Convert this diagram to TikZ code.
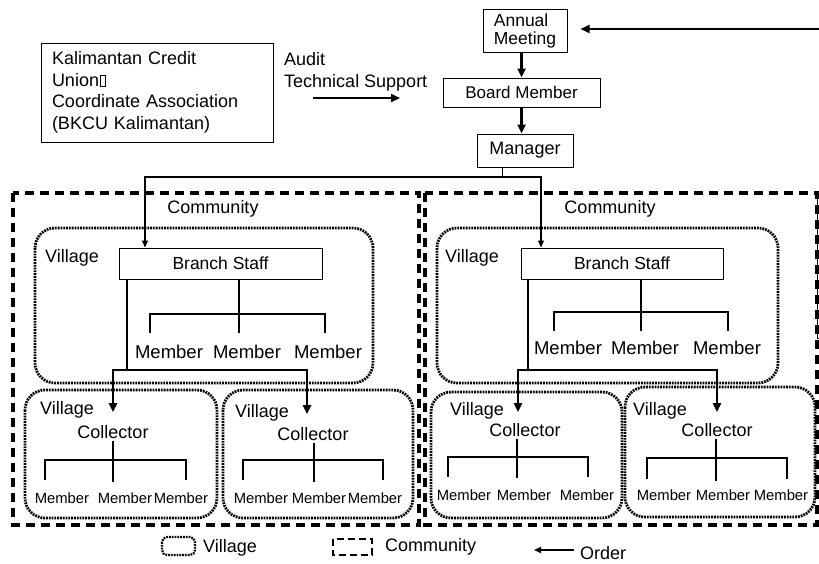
\documentclass[tikz,border=0pt]{standalone}
\usepackage{fontspec}
\setmainfont{Liberation Sans}
\usetikzlibrary{arrows.meta,positioning}
\newcommand{\tofu}{\kern1pt{\setlength{\fboxsep}{0pt}\setlength{\fboxrule}{0.5pt}\fbox{\rule{0pt}{11pt}\kern4pt}}}
\tikzset{
  box/.style={draw, line width=1pt, inner sep=0pt},
  lbl/.style={inner sep=2pt, font=\fontsize{18}{21}\selectfont},
  mem/.style={inner sep=2pt, font=\fontsize{14.8}{18}\selectfont},
  link/.style={line width=1.4pt},
  arrthin/.style={line width=1.2pt, -{Triangle[length=7pt,width=6pt]}},
  arrthick/.style={line width=2.4pt, -{Triangle[length=9pt,width=8pt]}},
  community/.style={line width=3.2pt, dash pattern=on 9pt off 6pt},
  village/.style={line width=2.8pt, dash pattern=on 1.8pt off 1pt, rounded corners=20pt},
}
\begin{document}
\begin{tikzpicture}[x=1pt,y=-1pt]
\useasboundingbox (0,0) rectangle (819,563);
% head office
\node[box, align=left, text width=210pt, inner xsep=11pt, minimum height=99pt,
  font=\fontsize{18}{21.5}\selectfont] (bkcu) at (157,92.5)
  {Kalimantan Credit\\Union\tofu\\Coordinate Association\\(BKCU Kalimantan)};
\node[lbl, align=left, anchor=north west, font=\fontsize{18}{22}\selectfont] (audit) at (282,50) {Audit\\Technical Support};
\coordinate (supA) at (313,98);
\coordinate (supB) at (400,98);
\draw[arrthick, line width=2pt] (supA) -- (supB);
%
\node[box, minimum width=84pt, minimum height=43pt, align=left, font=\fontsize{17.5}{18}\selectfont] (annual) at (525,30.5) {Annual\\Meeting};
\node[box, minimum width=157pt, minimum height=29pt, font=\fontsize{17}{20}\selectfont] (board) at (521.5,92.5) {Board Member};
\node[box, minimum width=96pt, minimum height=33pt, font=\fontsize{18}{21}\selectfont] (manager) at (525,150.5) {Manager};
\draw[arrthick] (board.north |- annual.south) -- (board.north);
\draw[arrthick] (board.south) -- (board.south |- manager.north);
\coordinate (orderin) at (819,29);
\draw[arrthick, line width=2pt, shorten >=13pt] (orderin) -- (orderin -| annual.east);
%
% communities
\draw[community] (13,193) rectangle (419,525);
\draw[community] (425,193) rectangle (817,525);
\draw[line width=0.8pt] (817,193) -- (817,338) -- (819,338);
\node[lbl] (comL) at (213,209) {Community};
\node[lbl] (comR) at (610,209) {Community};
%
% villages
\draw[village] (35,228) rectangle (373,383);
\draw[village] (437,228) rectangle (778,383);
\draw[village] (25,390) rectangle (217,518);
\draw[village] (223,390) rectangle (413,518);
\draw[village] (431,392) rectangle (622,518);
\draw[village] (625,387) rectangle (815,517);
\node[lbl, anchor=west] (vilTL) at (43,258) {Village};
\node[lbl, anchor=west] (vilTR) at (443,258) {Village};
\node[lbl, anchor=west] (vilL1) at (38,410) {Village};
\node[lbl, anchor=west] (vilL2) at (233,413) {Village};
\node[lbl, anchor=west] (vilR1) at (448,411) {Village};
\node[lbl, anchor=west] (vilR2) at (631,411) {Village};
%
% branch staff
\node[box, minimum width=203pt, minimum height=31pt, font=\fontsize{17.5}{20}\selectfont] (branchL) at (220.5,263.5) {Branch Staff};
\node[box, minimum width=202pt, minimum height=31pt, font=\fontsize{17.5}{20}\selectfont] (branchR) at (622,263.5) {Branch Staff};
\coordinate (split) at (502,177);
\draw[line width=1pt] (manager.south -| split) -- (split);
\draw[arrthin] (split) -| ([xshift=-75.5pt]branchL.north);
\draw[arrthin] (split) -| ([xshift=-81pt]branchR.north);
%
% members of branch
\coordinate (barTL) at (239,314);
\draw[link] (branchL.south -| barTL) -- (barTL) -- ++(0,19);
\draw[link] (barTL) ++(-89,19) |- (barTL) -| ++(86,19);
\node[lbl, font=\fontsize{18.5}{21}\selectfont] (mTL1) at (169,352) {Member};
\node[lbl, font=\fontsize{18.5}{21}\selectfont] (mTL2) at (247,352) {Member};
\node[lbl, font=\fontsize{18.5}{21}\selectfont] (mTL3) at (328,352) {Member};
\coordinate (barTR) at (641,312);
\draw[link] (branchR.south -| barTR) -- (barTR) -- ++(0,19);
\draw[link] (barTR) ++(-87,19) |- (barTR) -| ++(87,19);
\node[lbl, font=\fontsize{18.5}{21}\selectfont] (mTR1) at (568,348) {Member};
\node[lbl, font=\fontsize{18.5}{21}\selectfont] (mTR2) at (645,348) {Member};
\node[lbl, font=\fontsize{18.5}{21}\selectfont] (mTR3) at (727,348) {Member};
%
% collectors
\node[lbl] (colL1) at (113,432) {Collector};
\node[lbl] (colL2) at (313,434) {Collector};
\node[lbl] (colR1) at (525,430) {Collector};
\node[lbl] (colR2) at (717,430) {Collector};
\coordinate (forkL) at (127,370);
\draw[link] (branchL.south -| forkL) -- (forkL);
\draw[arrthick] (forkL) -| ([yshift=11pt]colL1.north);
\draw[arrthick] (forkL) -| ([xshift=-6pt,yshift=11pt]colL2.north);
\coordinate (forkR) at (528,370);
\draw[link] (branchR.south -| forkR) -- (forkR);
\draw[arrthick] (forkR) -| ([xshift=-7pt,yshift=9pt]colR1.north);
\draw[arrthick] (forkR) -| ([yshift=9pt]colR2.north);
%
% members of collectors
\coordinate (barL1) at (113,460);
\draw[link] (colL1.south -| barL1) -- (barL1) -- ++(0,22);
\draw[link] (barL1) ++(-68,20) |- (barL1) -| ++(73,20);
\node[mem] (mL11) at (62,498) {Member};
\node[mem] (mL12) at (125,498) {Member};
\node[mem] (mL13) at (181,498) {Member};
\coordinate (barL2) at (314,460);
\draw[link] (colL2.south -| barL2) -- (barL2) -- ++(0,22);
\draw[link] (barL2) ++(-71,20) |- (barL2) -| ++(69,20);
\node[mem] (mL21) at (261,498) {Member};
\node[mem] (mL22) at (319,498) {Member};
\node[mem] (mL23) at (375,498) {Member};
\coordinate (barR1) at (517,457);
\draw[link] (colR1.south -| barR1) -- (barR1) -- ++(0,21);
\draw[link] (barR1) ++(-69,20) |- (barR1) -| ++(71,20);
\node[mem] (mR11) at (464,495) {Member};
\node[mem] (mR12) at (524,495) {Member};
\node[mem] (mR13) at (587,495) {Member};
\coordinate (barR2) at (716,458);
\draw[link] (colR2.south -| barR2) -- (barR2) -- ++(0,23);
\draw[link] (barR2) ++(-69,21) |- (barR2) -| ++(71,21);
\node[mem] (mR21) at (664,495) {Member};
\node[mem] (mR22) at (723,495) {Member};
\node[mem] (mR23) at (781,495) {Member};
%
% legend
\draw[village, rounded corners=5pt, line width=2.2pt] (162,537) rectangle (195,555);
\node[lbl, anchor=west] (legV) at (201,548) {Village};
\draw[community, line width=2.6pt, dash pattern=on 7pt off 4pt] (333,539) rectangle (372,555);
\node[lbl, anchor=west] (legC) at (383,547) {Community};
\node[lbl, anchor=west] (legO) at (578,553) {Order};
\draw[arrthin, line width=1.5pt] ([xshift=-4pt]legO.west |- 0,550) -- ++(-40,0);
\end{tikzpicture}
\end{document}
